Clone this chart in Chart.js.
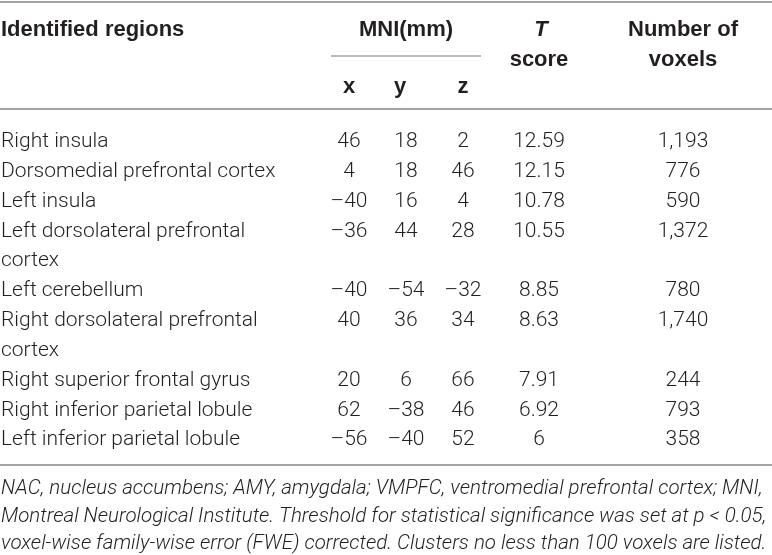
<!DOCTYPE html>
<html>
<head>
<meta charset="utf-8">
<script src="https://cdn.jsdelivr.net/npm/chart.js@4.4.0/dist/chart.umd.min.js"></script>
<style>
html, body { margin: 0; padding: 0; background: #fff; }
#wrap { width: 772px; height: 555px; }
</style>
</head>
<body>
<div id="wrap"><canvas id="table" width="772" height="555"></canvas></div>
<script>
// table data
var regions = [
    ['Right insula'],
    ['Dorsomedial prefrontal cortex'],
    ['Left insula'],
    ['Left dorsolateral prefrontal', 'cortex'],
    ['Left cerebellum'],
    ['Right dorsolateral prefrontal', 'cortex'],
    ['Right superior frontal gyrus'],
    ['Right inferior parietal lobule'],
    ['Left inferior parietal lobule']
];
var mniX = [46, 4, -40, -36, -40, 40, 20, 62, -56];
var mniY = [18, 18, 16, 44, -54, 36, 6, -38, -40];
var mniZ = [2, 46, 4, 28, -32, 34, 66, 46, 52];
var tScore = [12.59, 12.15, 10.78, 10.55, 8.85, 8.63, 7.91, 6.92, 6];
var voxels = [1193, 776, 590, 1372, 780, 1740, 244, 793, 358];

var headTop = ['Identified regions', 'MNI(mm)', 'T', 'Number of'];
var headMid = ['score', 'voxels'];
var headSub = ['x', 'y', 'z'];
var footnote = [
    'NAC, nucleus accumbens; AMY, amygdala; VMPFC, ventromedial prefrontal cortex; MNI,',
    'Montreal Neurological Institute. Threshold for statistical significance was set at p < 0.05,',
    'voxel-wise family-wise error (FWE) corrected. Clusters no less than 100 voxels are listed.'
];

// layout (pixels)
var colLeft = 1, colX = 349, colY = 406, colZ = 463, colT = 539, colVox = 683;
var INK = '#231f20';
var RULE = '#a4a4a4';
var BODY = '300 21px Roboto, "Liberation Sans", sans-serif';
var BOLD = 'bold 22px "Liberation Sans", Arial, sans-serif';
var DY = 2; // canvas 'middle' sits a bit high

function fmtNum(v) {
    return v < 0 ? '\u2013' + Math.abs(v) : String(v);
}
function fmtVox(v) {
    return v.toLocaleString('en-US');
}

// each region takes one slot per text line
var slots = [];
var s = 0;
regions.forEach(function(r) { slots.push(s); s += r.length; });

var nameData = [], nameText = [];
regions.forEach(function(r, i) {
    r.forEach(function(line, j) {
        nameData.push({x: colLeft, y: slots[i] + j});
        nameText.push(line);
    });
});

function column(xpos, values, fmt) {
    return {
        data: values.map(function(v, i) { return {x: xpos, y: slots[i]}; }),
        cellText: values.map(fmt),
        align: 'center',
        pointRadius: 0
    };
}

var datasets = [
    {data: nameData, cellText: nameText, align: 'left', pointRadius: 0},
    column(colX, mniX, fmtNum),
    column(colY, mniY, fmtNum),
    column(colZ, mniZ, fmtNum),
    column(colT, tScore, fmtNum),
    column(colVox, voxels, fmtVox)
];

function hline(ctx, x1, x2, y, w) {
    ctx.beginPath();
    ctx.strokeStyle = RULE;
    ctx.lineWidth = w;
    ctx.moveTo(x1, y);
    ctx.lineTo(x2, y);
    ctx.stroke();
}

var tablePlugin = {
    id: 'tableText',
    afterDraw: function(chart) {
        var ctx = chart.ctx;
        var xs = chart.scales.x;
        ctx.save();
        ctx.fillStyle = INK;
        ctx.textBaseline = 'middle';

        // cells
        ctx.font = BODY;
        chart.data.datasets.forEach(function(ds, di) {
            var meta = chart.getDatasetMeta(di);
            ctx.textAlign = ds.align;
            meta.data.forEach(function(pt, i) {
                ctx.fillText(ds.cellText[i], pt.x, pt.y + DY);
            });
        });

        // header
        ctx.font = BOLD;
        ctx.textAlign = 'left';
        ctx.fillText(headTop[0], xs.getPixelForValue(colLeft), 28 + DY);
        ctx.textAlign = 'center';
        ctx.fillText(headTop[1], xs.getPixelForValue(colY), 28 + DY);
        ctx.fillText(headTop[3], xs.getPixelForValue(colVox), 28 + DY);
        ctx.fillText(headMid[0], xs.getPixelForValue(colT), 58 + DY);
        ctx.fillText(headMid[1], xs.getPixelForValue(colVox), 58 + DY);
        ctx.fillText(headSub[0], xs.getPixelForValue(colX), 85 + DY);
        ctx.fillText(headSub[1], xs.getPixelForValue(colY) - 6, 85 + DY);
        ctx.fillText(headSub[2], xs.getPixelForValue(colZ), 85 + DY);
        ctx.font = 'italic ' + BOLD;
        ctx.fillText(headTop[2], xs.getPixelForValue(colT) + 2, 28 + DY);

        // rules
        hline(ctx, 0, 772, 2, 2);
        hline(ctx, 331, 481, 56, 1.5);
        hline(ctx, 0, 772, 109, 2);
        hline(ctx, 0, 772, 465, 2);

        // footnote
        ctx.textAlign = 'left';
        var fsize = 17;
        ctx.font = 'italic 300 ' + fsize + 'px Roboto, "Liberation Sans", sans-serif';
        var w = ctx.measureText(footnote[1]).width;
        fsize = fsize * 766 / w;
        ctx.font = 'italic 300 ' + fsize.toFixed(2) + 'px Roboto, "Liberation Sans", sans-serif';
        [487, 515, 542].forEach(function(y, i) {
            ctx.fillText(footnote[i], 1, y + DY);
        });
        ctx.restore();
    }
};

new Chart(document.getElementById('table').getContext('2d'), {
    type: 'scatter',
    data: {datasets: datasets},
    options: {
        responsive: false,
        animation: false,
        devicePixelRatio: 1,
        layout: {padding: {top: 125, bottom: 102, left: 0, right: 0}},
        scales: {
            x: {type: 'linear', min: 0, max: 772, display: false},
            y: {type: 'linear', min: -0.5, max: 10.5, reverse: true, display: false}
        },
        plugins: {
            legend: {display: false},
            tooltip: {enabled: false}
        }
    },
    plugins: [tablePlugin]
});
</script>
</body>
</html>
